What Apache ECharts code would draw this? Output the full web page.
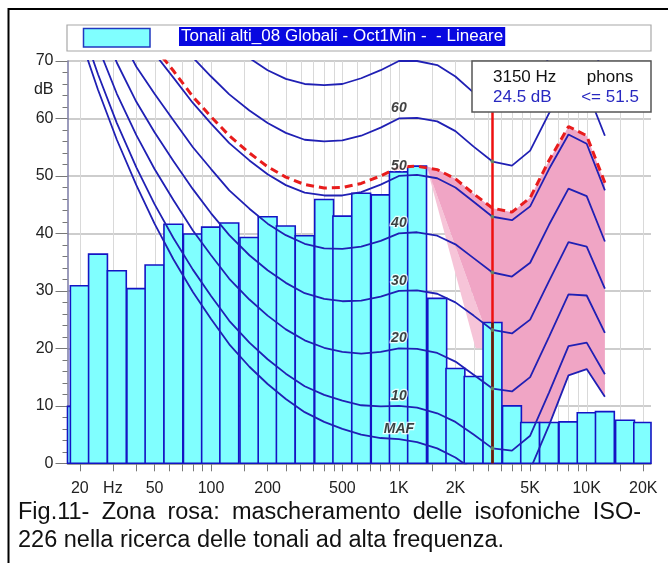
<!DOCTYPE html>
<html><head><meta charset="utf-8">
<script src="https://cdn.jsdelivr.net/npm/echarts@6.0.0/dist/echarts.min.js"></script>
<style>html,body{margin:0;padding:0;background:#fff;}#c{width:668px;height:563px;}</style>
</head><body><div id="c"></div>
<script>
// ---- data ----
const bandFreqs = [16,20,25,31.5,40,50,63,80,100,125,160,200,250,315,400,500,630,800,1000,1250,1600,2000,2500,3150,4000,5000,6300,8000,10000,12500,16000,20000];
const bandLevels = [9.9,30.9,36.4,33.5,30.4,34.5,41.6,39.9,41.1,41.8,39.3,42.9,41.3,39.6,45.9,43.0,47.0,46.7,50.7,51.7,28.7,16.5,15.1,24.5,10.0,7.1,7.1,7.2,8.8,9.0,7.5,7.1];

const isoFreqs = [20,25,31.5,40,50,63,80,100,125,160,200,250,315,400,500,630,800,1000,1250,1600,2000,2500,3150,4000,5000,6300,8000,10000,12500];
const curveMAF = [74.3,65.0,56.3,48.4,41.7,35.5,29.8,25.1,20.7,16.8,13.8,11.2,8.9,7.2,6.0,5.0,4.4,4.2,3.7,2.6,1.0,-1.2,-3.6,-3.9,-1.1,6.6,15.3,16.4,11.6];
const curve10 = [76.8,67.7,59.2,51.5,45.1,39.2,33.7,29.1,24.8,21.0,18.1,15.6,13.4,11.9,10.9,10.1,9.9,10.0,9.7,8.7,7.2,5.0,2.6,2.2,4.8,12.3,20.4,21.0,15.5];
const curve20 = [null,72.5,64.3,57.1,51.2,45.8,40.5,36.2,32.1,28.5,25.7,23.3,21.4,20.1,19.4,19.1,19.4,20.0,19.9,19.2,17.7,15.4,13.0,12.5,15.0,22.0,29.4,29.2,22.7];
const curve30 = [null,77.6,69.7,62.9,57.6,52.6,47.7,43.5,39.7,36.2,33.6,31.4,29.6,28.6,28.2,28.3,29.0,30.0,30.1,29.5,28.0,25.7,23.2,22.6,25.0,31.7,38.5,37.7,30.4];
const curve40 = [null,null,75.4,69.0,64.3,59.7,55.0,51.2,47.5,44.3,41.7,39.7,38.2,37.4,37.3,37.7,38.7,40.0,40.2,39.6,38.1,35.7,33.2,32.5,34.9,41.5,47.8,46.5,38.6];
const curve50 = [null,null,null,75.4,71.3,67.1,62.7,59.1,55.7,52.7,50.3,48.4,47.1,46.6,46.6,47.2,48.5,50.0,50.2,49.6,48.0,45.5,42.9,42.3,44.7,51.2,57.2,55.6,47.5];
const curve60 = [null,null,null,null,null,74.8,70.6,67.3,64.2,61.4,59.2,57.5,56.3,56.0,56.2,57.0,58.4,60.0,60.1,59.5,57.8,55.1,52.5,51.8,54.4,60.9,66.7,65.0,57.0];
const curve70 = [null,null,null,null,null,null,null,null,73.0,70.5,68.4,66.9,66.0,65.8,66.0,67.0,68.4,70.0,70.0,69.3,67.3,64.5,61.9,61.3,64.0,70.7,76.4,74.8,67.4];
const curveDashed = [null,null,null,null,72.4,68.3,63.8,60.3,57.0,54.0,51.6,49.8,48.5,47.9,48.0,48.7,50.0,51.5,51.7,51.1,49.5,46.9,44.4,43.7,46.2,52.7,58.6,57.0,48.8];
const curveLabels = ['MAF','10','20','30','40','50','60',''];

const maskFreqs  = [1403,1600,2000,2500,3150,4000,5000,6300,8000,10000,12500,12500,10000,8000,6300,5300,2806,2806];
const maskLevels = [51.7,51.1,49.5,46.9,44.4,43.7,46.2,52.7,58.6,57.0,48.8,11.6,16.4,15.3,6.6,0,0,24.4];
const wedgeFreqs  = [1403,2560,2806,2806];
const wedgeLevels = [51.7,20,20,24.4];

const cursorFreq = 3150, cursorLevel = 24.5, cursorPhon = 51.5;

const gridFreqs = [20,30,40,50,60,70,80,90,100,150,200,250,300,350,400,450,500,600,700,800,900,1000,1500,2000,2500,3000,3500,4000,4500,5000,6000,7000,8000,9000,10000,15000,20000];
const tickFreqs  = [20,30,50,100,200,500,1000,2000,5000,10000,20000];
const tickLabels = ['20','Hz','50','100','200','500','1K','2K','5K','10K','20K'];
const yLabelValues = [0,10,20,30,40,50,60,65,70];
const yLabelTexts  = ['0','10','20','30','40','50','60','dB','70'];

const legendText = 'Tonali alti_08 Globali - Oct1Min -  - Lineare';
const captionLine1 = 'Fig.11- Zona rosa: mascheramento delle isofoniche ISO-';
const captionLine2 = '226 nella ricerca delle tonali ad alta frequenza.';

// ---- chart ----
const FONT = '"Liberation Sans", Arial, sans-serif';
const chart = echarts.init(document.getElementById('c'), null, {renderer:'canvas'});
const third = Math.pow(2, 1/6);
const pairs = arr => isoFreqs.map((f,i)=>[f, arr[i]]).filter(p=>p[1]!==null);
const allCurves = [curveMAF, curve10, curve20, curve30, curve40, curve50, curve60, curve70];
const idx1k = isoFreqs.indexOf(1000);
const idxCur = isoFreqs.indexOf(cursorFreq);

function polySeries(freqs, levels, color, z){
  return {type:'custom', coordinateSystem:'cartesian2d', z:z, silent:true, data:[[1000,0]],
    renderItem:(params, api)=>({type:'polygon', shape:{points: freqs.map((f,i)=>api.coord([f, levels[i]]))},
      style:{fill:color}})};
}

const series = [];
series.push({type:'custom', coordinateSystem:'cartesian2d', z:1, silent:true,
  data: gridFreqs.map(f=>[f,0]),
  renderItem:(params, api)=>{
    const a = api.coord([api.value(0), 0]), b = api.coord([api.value(0), 70]);
    return {type:'line', shape:{x1:Math.round(a[0])+0.5, y1:a[1], x2:Math.round(a[0])+0.5, y2:b[1]}, style:{stroke:'#d9d9d9', lineWidth:1}};
  }});
series.push(polySeries(wedgeFreqs, wedgeLevels, '#f6c4d8', 2));
series.push(polySeries(maskFreqs, maskLevels, '#f0a5c5', 3));
series.push({type:'custom', coordinateSystem:'cartesian2d', z:4, silent:true,
  data: bandFreqs.map((f,i)=>[f, bandLevels[i]]),
  renderItem:(params, api)=>{
    const cs = params.coordSys;
    const f = api.value(0), v = api.value(1);
    const p0 = api.coord([f/third, v]), p1 = api.coord([f*third, 0]);
    const x0 = Math.max(p0[0], cs.x), x1 = Math.min(p1[0], cs.x + cs.width);
    return {type:'rect', shape:{x:x0, y:p0[1], width:x1-x0, height:p1[1]-p0[1]},
      style:{fill:'#80ffff', stroke:'#1414c4', lineWidth:1.6}};
  }});
allCurves.forEach((arr)=>{
  series.push({type:'line', z:5, silent:true, data: pairs(arr), symbol:'none', smooth:false,
    lineStyle:{color:'#2020b4', width:1.8}, clip:true});
});
series.push({type:'line', z:6, silent:true, data: pairs(curveDashed), symbol:'none',
  lineStyle:{color:'#e81c1c', width:3, type:[8,5]}, clip:true,
  markLine:{silent:true, symbol:'none', label:{show:false}, animation:false,
    data:[
      [{coord:[cursorFreq,0], lineStyle:{color:'#ee1010', width:2.5, type:'solid'}},{coord:[cursorFreq,70]}],
      [{coord:[cursorFreq,0], lineStyle:{color:'#5a2010', width:2.5, type:'solid'}},{coord:[cursorFreq,cursorLevel]}]
    ]}});
series.push({type:'scatter', z:7, silent:true, symbolSize:4,
  itemStyle:{color:'#6e9a5a'},
  data: allCurves.slice(1,7).map(a=>[cursorFreq, a[idxCur]])});
series.push({type:'scatter', z:8, silent:true, symbolSize:0,
  data: allCurves.map((a,k)=>({value:[1000, a[idx1k]], name:curveLabels[k]})).filter(d=>d.name),
  label:{show:true, position:'top', distance:3, formatter:p=>p.name,
    fontFamily:FONT, fontSize:14, fontWeight:'bold', fontStyle:'italic', color:'#111',
    textBorderColor:'#fff', textBorderWidth:2.5}});

// justified first caption line (word positions measured with canvas)
const capFont = '23.5px ' + FONT;
const mctx = document.createElement('canvas').getContext('2d');
mctx.font = capFont;
const words = captionLine1.split(' ');
const wWidths = words.map(w=>mctx.measureText(w).width);
const capLeft = 18, capRight = 641;
const gap = (capRight - capLeft - wWidths.reduce((a,b)=>a+b,0)) / (words.length-1);
const capGraphics = [];
let cx = capLeft;
words.forEach((w,i)=>{
  capGraphics.push({type:'text', z:101, silent:true, x:cx, y:513, style:{text:w, font:capFont, fill:'#111', textVerticalAlign:'middle'}});
  cx += wWidths[i] + gap;
});
capGraphics.push({type:'text', z:101, silent:true, x:capLeft, y:541, style:{text:captionLine2, font:capFont, fill:'#111', textVerticalAlign:'middle'}});

const option = {
  animation:false,
  backgroundColor:'#fff',
  grid:{left:67.5, right:17, top:61, bottom:99.7, containLabel:false},
  xAxis:{type:'log', logBase:10, min:17.2, max:22000,
    axisLine:{show:true, lineStyle:{color:'#8a8a8a', width:1.5}},
    axisTick:{show:true, customValues:gridFreqs, length:8, lineStyle:{color:'#777'}},
    minorTick:{show:false},
    axisLabel:{show:true, customValues:tickFreqs, margin:17, fontFamily:FONT, fontSize:16, color:'#222',
      formatter:v=>{ const i = tickFreqs.findIndex(t=>Math.abs(t-v)/t<1e-6); return i>=0?tickLabels[i]:''; }},
    splitLine:{show:false}},
  yAxis:{type:'value', min:0, max:70, interval:10,
    axisLine:{show:true, lineStyle:{color:'#7a7aa6', width:1.5}},
    axisTick:{show:true, length:12, lineStyle:{color:'#777'}},
    minorTick:{show:true, splitNumber:5, length:5, lineStyle:{color:'#777'}},
    axisLabel:{customValues:yLabelValues, margin:14, fontFamily:FONT, fontSize:16, color:'#222',
      formatter:v=>{ const i = yLabelValues.indexOf(v); return i>=0?yLabelTexts[i]:''; }},
    splitLine:{show:true, lineStyle:{color:'#bdbdbd', width:1.5}}},
  series: series,
  graphic:[
    {type:'rect', z:100, silent:true, shape:{x:8.5, y:9, width:720, height:620}, style:{fill:'none', stroke:'#000', lineWidth:2}},
    {type:'rect', z:100, silent:true, shape:{x:67, y:25, width:584, height:26}, style:{fill:'#fff', stroke:'#a8a8a8', lineWidth:1.2}},
    {type:'rect', z:101, silent:true, shape:{x:83.5, y:28.5, width:66.5, height:18.5}, style:{fill:'#80ffff', stroke:'#2038c0', lineWidth:1.5}},
    {type:'text', z:101, silent:true, x:179, y:27, style:{text:legendText, font:'17px '+FONT, fill:'#fff',
      backgroundColor:'#0808e0', padding:[1,2,1,2], textVerticalAlign:'top'}},
    {type:'rect', z:100, silent:true, shape:{x:472, y:61, width:179, height:51}, style:{fill:'#fff', stroke:'#555', lineWidth:1.5}},
    {type:'text', z:101, silent:true, x:493, y:77, style:{text:cursorFreq+' Hz', font:'17px '+FONT, fill:'#111', textVerticalAlign:'middle'}},
    {type:'text', z:101, silent:true, x:610, y:77, style:{text:'phons', font:'17px '+FONT, fill:'#111', textAlign:'center', textVerticalAlign:'middle'}},
    {type:'text', z:101, silent:true, x:493, y:97, style:{text:cursorLevel.toFixed(1)+' dB', font:'17px '+FONT, fill:'#2828c0', textVerticalAlign:'middle'}},
    {type:'text', z:101, silent:true, x:610, y:97, style:{text:'<= '+cursorPhon.toFixed(1), font:'17px '+FONT, fill:'#2828c0', textAlign:'center', textVerticalAlign:'middle'}}
  ].concat(capGraphics)
};
chart.setOption(option);
</script>
</body></html>
